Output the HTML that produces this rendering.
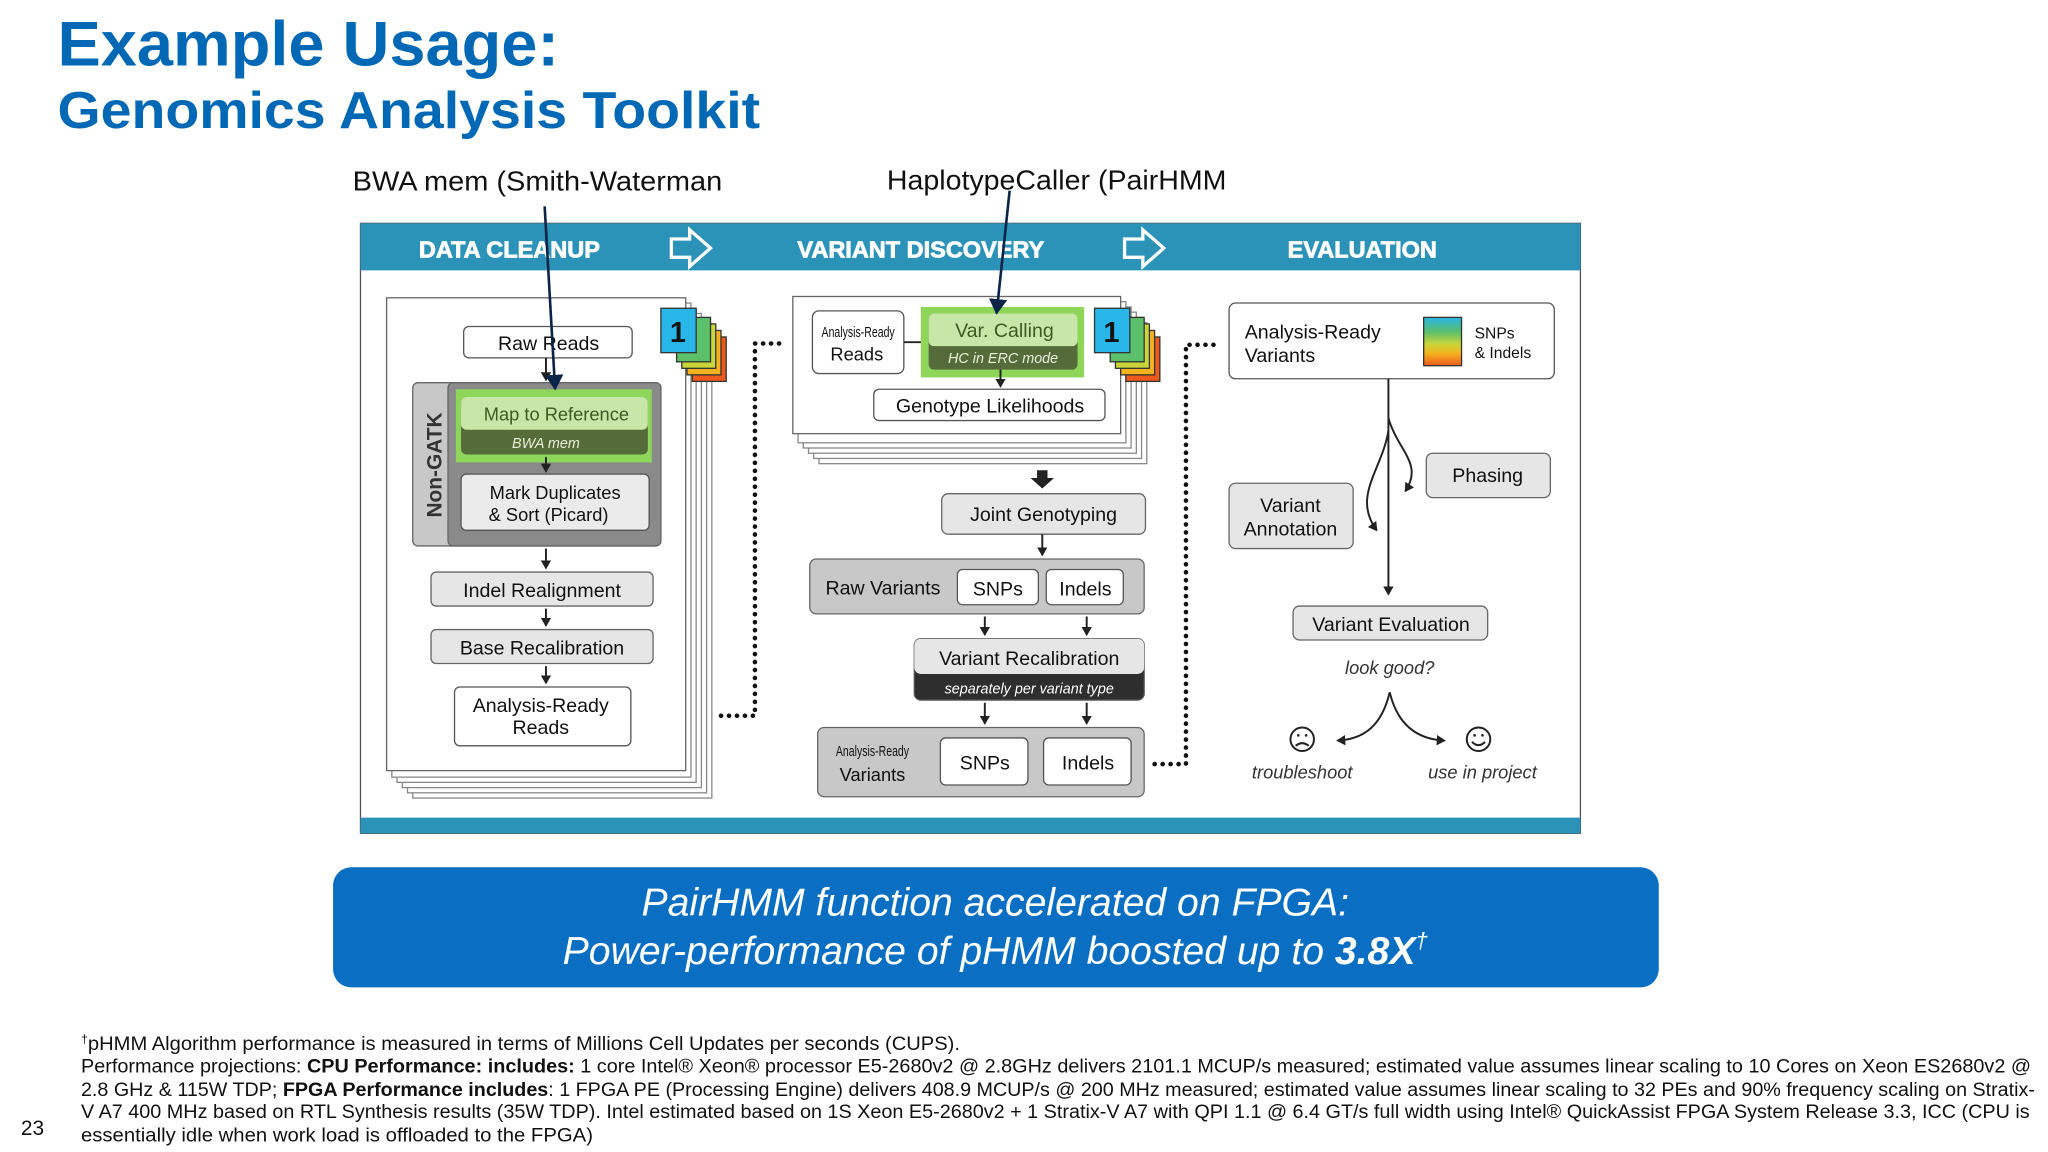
<!DOCTYPE html>
<html><head><meta charset="utf-8"><style>
html,body{margin:0;padding:0;background:#fff}
svg{display:block}
text{font-family:"Liberation Sans",sans-serif}
</style></head><body>
<svg width="2048" height="1152" viewBox="0 0 1568 882" xmlns="http://www.w3.org/2000/svg">
<defs>
<marker id="ah" markerWidth="8" markerHeight="8" refX="6" refY="4" orient="auto" markerUnits="userSpaceOnUse"><path d="M0,0 L7,4 L0,8 z" fill="#222"/></marker>
<marker id="ahn" markerWidth="14" markerHeight="14" refX="11" refY="7" orient="auto" markerUnits="userSpaceOnUse"><path d="M0,0 L12,7 L0,14 z" fill="#0b2447"/></marker>
<linearGradient id="rb" x1="0" y1="0" x2="0" y2="1">
<stop offset="0" stop-color="#29b6e8"/><stop offset="0.3" stop-color="#5cbf6a"/><stop offset="0.55" stop-color="#c8d63a"/><stop offset="0.75" stop-color="#f5b21f"/><stop offset="1" stop-color="#ee5a1e"/></linearGradient>
</defs>
<text x="44" y="50" font-size="48" font-weight="bold" fill="#0068b5" textLength="384" lengthAdjust="spacingAndGlyphs">Example Usage:</text>
<text x="44" y="98" font-size="40" font-weight="bold" fill="#0068b5" textLength="538" lengthAdjust="spacingAndGlyphs">Genomics Analysis Toolkit</text>
<text x="270" y="146" font-size="21" fill="#111" textLength="283" lengthAdjust="spacingAndGlyphs">BWA mem (Smith-Waterman</text>
<text x="679" y="145" font-size="21" fill="#111" textLength="260" lengthAdjust="spacingAndGlyphs">HaplotypeCaller (PairHMM</text>

<!-- frame -->
<rect x="276" y="171" width="934" height="467" fill="#fff" stroke="#555" stroke-width="1"/>
<rect x="276" y="171" width="934" height="36" fill="#2c93b8"/>
<rect x="276" y="626" width="934" height="12" fill="#2c93b8"/>
<g font-size="18" font-weight="bold" fill="#fff" text-anchor="middle" stroke="#fff" stroke-width="0.6">
<text x="390" y="197">DATA CLEANUP</text><text x="705" y="197">VARIANT DISCOVERY</text><text x="1043" y="197">EVALUATION</text></g>
<g fill="none" stroke="#fff" stroke-width="2.5">
<path d="M514,183 h14 v-7 l16,14 l-16,14 v-7 h-14 z"/><path d="M861,183 h14 v-7 l16,14 l-16,14 v-7 h-14 z"/></g>

<!-- left stack -->
<g fill="#fff" stroke="#888" stroke-width="1">
<rect x="316" y="248" width="229" height="363"/><rect x="312" y="244" width="229" height="363"/><rect x="308" y="240" width="229" height="363"/><rect x="304" y="236" width="229" height="363"/><rect x="300" y="232" width="229" height="363"/>
<rect x="296" y="228" width="229" height="362" stroke="#666"/></g>
<rect x="530" y="258" width="26" height="34" fill="#ee5a1e" stroke="#333"/><rect x="526" y="253" width="26" height="34" fill="#f5b21f" stroke="#333"/><rect x="522" y="248" width="26" height="34" fill="#c8d63a" stroke="#333"/><rect x="518" y="243" width="26" height="34" fill="#5cbf6a" stroke="#333"/>
<rect x="506" y="236" width="27" height="34" fill="#29b6e8" stroke="#333"/>
<text x="519" y="262" font-size="22" font-weight="bold" text-anchor="middle" fill="#111">1</text>

<g font-size="15" fill="#111" text-anchor="middle">
<rect x="355" y="250" width="129" height="24" rx="4" fill="#fff" stroke="#555"/><text x="420" y="268">Raw Reads</text>
<rect x="316" y="293" width="190" height="125" rx="4" fill="#c8c8c8" stroke="#666"/>
<rect x="343" y="293" width="163" height="125" rx="4" fill="#8a8a8a" stroke="#666"/>
<text transform="translate(338,356) rotate(-90)" font-size="16" font-weight="bold" fill="#333">Non-GATK</text>
<rect x="349" y="298" width="150" height="56" fill="#8dd65a"/>
<rect x="353" y="304" width="143" height="44" rx="4" fill="#556b3a"/>
<rect x="353" y="304" width="143" height="25" rx="4" fill="#c8e6a8"/>
<text x="426" y="322" fill="#3d5a25" font-size="14">Map to Reference</text>
<text x="418" y="343" fill="#e8f0d8" font-size="11" font-style="italic">BWA mem</text>
<rect x="353" y="363" width="144" height="43" rx="4" fill="#ebebeb" stroke="#555"/>
<text x="425" y="382" font-size="14">Mark Duplicates</text><text x="420" y="399" font-size="14">&amp; Sort (Picard)</text>
<rect x="330" y="438" width="170" height="26" rx="4" fill="#e6e6e6" stroke="#666"/><text x="415" y="457">Indel Realignment</text>
<rect x="330" y="482" width="170" height="26" rx="4" fill="#e6e6e6" stroke="#666"/><text x="415" y="501">Base Recalibration</text>
<rect x="348" y="526" width="135" height="45" rx="4" fill="#fff" stroke="#555"/><text x="414" y="545">Analysis-Ready</text><text x="414" y="562">Reads</text>
</g>
<g stroke="#222" stroke-width="1.5" marker-end="url(#ah)">
<line x1="418" y1="274" x2="418" y2="291"/><line x1="418" y1="350" x2="418" y2="361"/><line x1="418" y1="420" x2="418" y2="435"/><line x1="418" y1="466" x2="418" y2="479"/><line x1="418" y1="510" x2="418" y2="523"/></g>
<path d="M552,548 H578 V263 H600" fill="none" stroke="#111" stroke-width="3.5" stroke-dasharray="0.1 6" stroke-linecap="round"/>

<!-- middle -->
<g fill="#fff" stroke="#888">
<rect x="627" y="247" width="251" height="108"/><rect x="623" y="243" width="251" height="108"/><rect x="619" y="239" width="251" height="108"/><rect x="615" y="235" width="251" height="108"/><rect x="611" y="231" width="251" height="108"/>
<rect x="607" y="227" width="251" height="105" stroke="#666"/></g>
<rect x="862" y="258" width="26" height="34" fill="#ee5a1e" stroke="#333"/><rect x="858" y="253" width="26" height="34" fill="#f5b21f" stroke="#333"/><rect x="854" y="248" width="26" height="34" fill="#c8d63a" stroke="#333"/><rect x="850" y="243" width="26" height="34" fill="#5cbf6a" stroke="#333"/>
<rect x="838" y="236" width="27" height="34" fill="#29b6e8" stroke="#333"/>
<text x="851" y="262" font-size="22" font-weight="bold" text-anchor="middle" fill="#111">1</text>
<g text-anchor="middle" fill="#111">
<rect x="622" y="238" width="70" height="48" rx="5" fill="#fff" stroke="#555"/>
<text x="657" y="258" font-size="11" textLength="56" lengthAdjust="spacingAndGlyphs">Analysis-Ready</text><text x="656" y="276" font-size="14">Reads</text>
<line x1="692" y1="262" x2="714" y2="262" stroke="#222" stroke-width="1.5"/>
<rect x="705" y="235" width="125" height="54" fill="#8dd65a"/>
<rect x="711" y="240" width="114" height="43" rx="4" fill="#556b3a"/>
<rect x="711" y="240" width="114" height="25" rx="4" fill="#c8e6a8"/>
<text x="769" y="258" font-size="15" fill="#3d5a25">Var. Calling</text>
<text x="768" y="278" font-size="11" font-style="italic" fill="#e8f0d8">HC in ERC mode</text>
<rect x="669" y="298" width="177" height="24" rx="4" fill="#fff" stroke="#555"/><text x="758" y="316" font-size="15">Genotype Likelihoods</text>
<path d="M794,360 h8 v6 h5 l-9,8 l-9,-8 h5 z" fill="#222"/>
<rect x="721" y="378" width="156" height="31" rx="5" fill="#e6e6e6" stroke="#666"/><text x="799" y="399" font-size="15">Joint Genotyping</text>
<rect x="620" y="428" width="256" height="42" rx="5" fill="#c8c8c8" stroke="#666"/>
<text x="676" y="455" font-size="15">Raw Variants</text>
<rect x="733" y="436" width="62" height="27" rx="4" fill="#fff" stroke="#555"/><text x="764" y="456" font-size="15">SNPs</text>
<rect x="801" y="436" width="59" height="27" rx="4" fill="#fff" stroke="#555"/><text x="831" y="456" font-size="15">Indels</text>
<rect x="700" y="489" width="176" height="47" rx="5" fill="#2e2e2e" stroke="#555"/>
<rect x="700" y="489" width="176" height="27" rx="5" fill="#e6e6e6"/>
<text x="788" y="509" font-size="15">Variant Recalibration</text>
<text x="788" y="531" font-size="11" font-style="italic" fill="#fff">separately per variant type</text>
<rect x="626" y="557" width="250" height="53" rx="5" fill="#c8c8c8" stroke="#666"/>
<text x="668" y="579" font-size="11" textLength="56" lengthAdjust="spacingAndGlyphs">Analysis-Ready</text><text x="668" y="598" font-size="14">Variants</text>
<rect x="720" y="565" width="67" height="36" rx="4" fill="#fff" stroke="#555"/><text x="754" y="589" font-size="15">SNPs</text>
<rect x="799" y="565" width="67" height="36" rx="4" fill="#fff" stroke="#555"/><text x="833" y="589" font-size="15">Indels</text>
</g>
<g stroke="#222" stroke-width="1.5" marker-end="url(#ah)">
<line x1="766" y1="283" x2="766" y2="296"/><line x1="798" y1="409" x2="798" y2="425"/>
<line x1="754" y1="472" x2="754" y2="486"/><line x1="832" y1="472" x2="832" y2="486"/>
<line x1="754" y1="538" x2="754" y2="554"/><line x1="832" y1="538" x2="832" y2="554"/></g>
<path d="M884,585 H908 V264 H934" fill="none" stroke="#111" stroke-width="3.5" stroke-dasharray="0.1 6" stroke-linecap="round"/>

<!-- right -->
<g fill="#111">
<rect x="941" y="232" width="249" height="58" rx="5" fill="#fff" stroke="#555"/>
<text x="953" y="259" font-size="15">Analysis-Ready</text><text x="953" y="277" font-size="15">Variants</text>
<rect x="1090" y="243" width="29" height="37" fill="url(#rb)" stroke="#333"/>
<text x="1129" y="259" font-size="12">SNPs</text><text x="1129" y="274" font-size="12">&amp; Indels</text>
<rect x="1092" y="347" width="95" height="34" rx="5" fill="#e6e6e6" stroke="#666"/><text x="1139" y="369" font-size="15" text-anchor="middle">Phasing</text>
<rect x="941" y="370" width="95" height="50" rx="5" fill="#e6e6e6" stroke="#666"/><text x="988" y="392" font-size="15" text-anchor="middle">Variant</text><text x="988" y="410" font-size="15" text-anchor="middle">Annotation</text>
<rect x="990" y="464" width="149" height="26" rx="5" fill="#e6e6e6" stroke="#666"/><text x="1065" y="483" font-size="15" text-anchor="middle">Variant Evaluation</text>
<text x="1064" y="516" font-size="14" font-style="italic" text-anchor="middle" fill="#333">look good?</text>
<text x="997" y="596" font-size="14" font-style="italic" text-anchor="middle" fill="#333">troubleshoot</text>
<text x="1135" y="596" font-size="14" font-style="italic" text-anchor="middle" fill="#333">use in project</text>
</g>
<g stroke="#222" stroke-width="1.5" fill="none">
<line x1="1063" y1="290" x2="1063" y2="455" marker-end="url(#ah)"/>
<path d="M1063,320 C1070,345 1090,355 1076,376" marker-end="url(#ah)"/>
<path d="M1063,330 C1058,360 1035,380 1054,406" marker-end="url(#ah)"/>
<path d="M1064,530 C1058,555 1045,566 1024,567" marker-end="url(#ah)"/>
<path d="M1064,530 C1070,555 1085,566 1106,567" marker-end="url(#ah)"/>
<circle cx="997" cy="566" r="9"/><circle cx="1132" cy="566" r="9"/>
<path d="M992,571 q5,-4 10,0"/><path d="M1127,568 q5,5 10,0"/></g>
<g fill="#222"><circle cx="994" cy="563" r="1"/><circle cx="1000" cy="563" r="1"/><circle cx="1129" cy="563" r="1"/><circle cx="1135" cy="563" r="1"/></g>

<!-- callout arrows -->
<g stroke="#0b2447" stroke-width="2" marker-end="url(#ahn)">
<line x1="417" y1="158" x2="425" y2="298"/><line x1="773" y1="146" x2="763" y2="240"/></g>

<!-- banner -->
<rect x="255" y="664" width="1015" height="92" rx="14" fill="#0a6fc2"/>
<g fill="#fff" font-size="30" font-style="italic" text-anchor="middle">
<text x="762" y="701">PairHMM function accelerated on FPGA:</text>
<text x="762" y="738">Power-performance of pHMM boosted up to <tspan font-weight="bold">3.8X</tspan><tspan font-size="17" dy="-12">†</tspan></text></g>

<!-- footnote -->
<g font-size="14.5" fill="#111">
<text x="62" y="804" textLength="673" lengthAdjust="spacingAndGlyphs"><tspan font-size="9" dy="-5">†</tspan><tspan dy="5">pHMM Algorithm performance is measured in terms of Millions Cell Updates per seconds (CUPS).</tspan></text>
<text x="62" y="821" textLength="1493" lengthAdjust="spacingAndGlyphs">Performance projections: <tspan font-weight="bold">CPU Performance: includes:</tspan>  1 core Intel® Xeon® processor  E5-2680v2 @ 2.8GHz delivers 2101.1 MCUP/s measured; estimated value assumes linear scaling to 10 Cores on Xeon ES2680v2 @</text>
<text x="62" y="839" textLength="1496" lengthAdjust="spacingAndGlyphs">2.8 GHz &amp; 115W TDP;  <tspan font-weight="bold">FPGA Performance includes</tspan>: 1 FPGA PE (Processing Engine) delivers 408.9 MCUP/s @ 200 MHz measured; estimated value assumes linear scaling to 32 PEs and 90% frequency scaling on Stratix-</text>
<text x="62" y="856" textLength="1492" lengthAdjust="spacingAndGlyphs">V A7 400 MHz based on RTL Synthesis results (35W TDP).  Intel estimated based on 1S Xeon E5-2680v2 + 1 Stratix-V A7 with QPI 1.1 @ 6.4 GT/s full width using Intel® QuickAssist FPGA System Release 3.3, ICC (CPU is</text>
<text x="62" y="874" textLength="392" lengthAdjust="spacingAndGlyphs">essentially idle when work load is offloaded to the FPGA)</text>
<text x="16" y="869" font-size="16">23</text>
</g>
</svg>
</body></html>
